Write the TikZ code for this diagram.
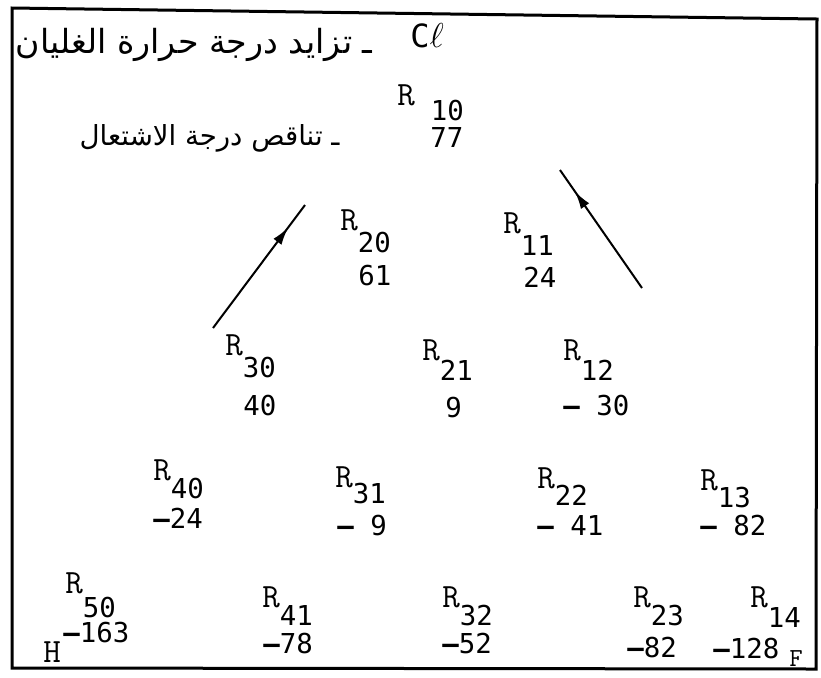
\documentclass[tikz,border=0pt]{standalone}
\usepackage{fontspec}
\newfontfamily\arabicfont[Script=Arabic]{DejaVu Sans}
\newfontfamily\numfont{DejaVu Sans Mono}
\newcommand{\rfont}{\fontsize{17}{18}\selectfont\ttfamily}
\TeXXeTstate=1
\usetikzlibrary{arrows.meta,decorations.markings}
\newcommand{\Rsub}[2][10pt]{{\rfont R}\raisebox{-#1}{\numfont #2}}
\newcommand{\mn}{{\bfseries –}}
\tikzset{rlab/.style = {anchor = base west, inner sep = 0pt, font = \fontsize{13.7}{16}\selectfont},
         val/.style = {anchor = base west, inner sep = 0pt, font = \fontsize{13.7}{16}\selectfont\numfont},
         arab/.style = {anchor = base east, inner sep = 0pt, font = \fontsize{16.6}{20}\selectfont\arabicfont},
         trend/.style = {line width = 1pt, postaction = {decorate},
                         decoration = {markings, mark = at position 0.82 with {\arrow{Latex[length=9pt, width=5pt]}}}},
         frame/.style = {line width = 1.5pt},
}

\begin{document}
\begin{tikzpicture}[x = 0.5pt, y = -0.5pt]
  \useasboundingbox (0,0) rectangle (821,677);
  \draw[frame] (12,8) -- (817,19) -- (816,669) -- (12,668) -- cycle;

  % trends
  \node[arab] (BOIL) at (373,53) {\beginR ـ تزايد درجة حرارة الغليان\endR};
  \node[arab, font = \fontsize{13.8}{18}\selectfont\arabicfont] (FLASH) at (340,145) {\beginR ـ تناقص درجة الاشتعال\endR};
  \node[rlab, font = \fontsize{16}{18}\selectfont] (CL) at (410,47) {{\numfont C}$\ell$};

  % row 1
  \node[rlab] (R10) at (397,105) {{\rfont R}\hspace{8pt}\raisebox{-7.5pt}{\numfont 10}};
  \node[val] (V10) at (430,147) {77};

  % row 2
  \node[rlab] (R20) at (340,230) {\Rsub[11pt]{20}};
  \node[val] (V20) at (358,285) {61};
  \node[rlab] (R11) at (503,233) {\Rsub[11pt]{11}};
  \node[val] (V11) at (523,287) {24};

  % row 3
  \node[rlab] (R30) at (225,355) {\Rsub[11pt]{30}};
  \node[val] (V30) at (243,415) {40};
  \node[rlab] (R21) at (422,360) {\Rsub{21}};
  \node[val] (V21) at (445,417) {9};
  \node[rlab] (R12) at (563,360) {\Rsub{12}};
  \node[val] (V12) at (563,415) {\mn{} 30};

  % row 4
  \node[rlab] (R40) at (153,480) {\Rsub[9pt]{40}};
  \node[val] (V40) at (153,528) {\mn24};
  \node[rlab] (R31) at (335,487) {\Rsub[8pt]{31}};
  \node[val] (V31) at (337,535) {\mn{} 9};
  \node[rlab] (R22) at (537,488) {\Rsub[8.5pt]{22}};
  \node[val] (V22) at (537,535) {\mn{} 41};
  \node[rlab] (R13) at (700,490) {\Rsub[8.5pt]{13}};
  \node[val] (V13) at (700,535) {\mn{} 82};

  % row 5
  \node[rlab] (R50) at (65,593) {\Rsub[12pt]{50}};
  \node[val] (V50) at (63,642) {\mn163};
  \node[rlab] (H) at (43,662) {\rfont H};
  \node[rlab] (R41) at (262,607) {\Rsub[9pt]{41}};
  \node[val] (V41) at (263,653) {\mn78};
  \node[rlab] (R32) at (442,607) {\Rsub[9pt]{32}};
  \node[val] (V32) at (442,653) {\mn52};
  \node[rlab] (R23) at (633,607) {\Rsub[9pt]{23}};
  \node[val] (V23) at (627,657) {\mn82};
  \node[rlab] (R14) at (750,607) {\Rsub[10pt]{14}};
  \node[val] (V14) at (713,658) {\mn128};
  \node[rlab] (F) at (789,666) {\fontsize{13}{14}\selectfont\ttfamily F};

  % arrows
  \coordinate (up1s) at (213,328);
  \coordinate (up1e) at (305,205);
  \coordinate (up2s) at (642,288);
  \coordinate (up2e) at (560,170);
  \draw[trend] (up1s) -- (up1e);
  \draw[trend] (up2s) -- (up2e);
\end{tikzpicture}
\end{document}
